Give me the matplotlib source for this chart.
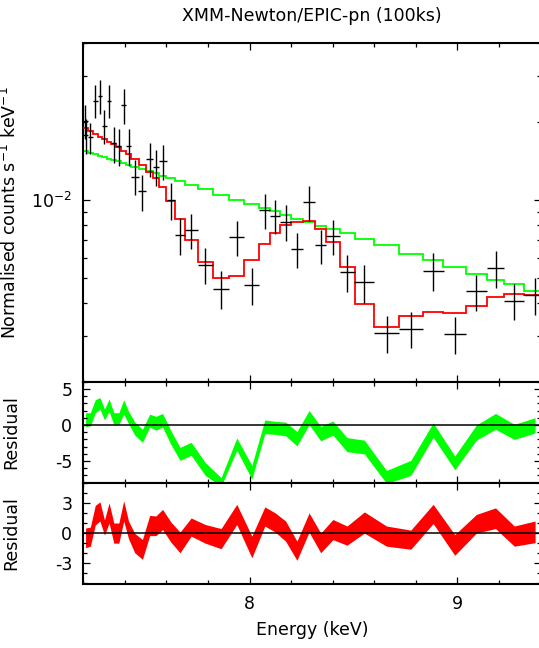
import numpy as np
import matplotlib
matplotlib.use("Agg")
import matplotlib.pyplot as plt
import matplotlib.ticker as mticker

plt.rcParams['font.family'] = 'DejaVu Sans'
plt.rcParams['font.size'] = 12.5
plt.rcParams['mathtext.default'] = 'regular'
plt.rcParams['axes.unicode_minus'] = False

# spectral bins (keV)
bin_edges = [7.200, 7.222, 7.246, 7.269, 7.291, 7.313, 7.335, 7.359, 7.383, 7.406,
             7.429, 7.466, 7.503, 7.536, 7.563, 7.600, 7.643, 7.688, 7.750, 7.824,
             7.902, 7.975, 8.047, 8.100, 8.148, 8.199, 8.257, 8.316, 8.369, 8.433,
             8.505, 8.600, 8.718, 8.834, 8.933, 9.042, 9.141, 9.226, 9.322, 9.426]

# observed spectrum
energy = [7.210, 7.211, 7.234, 7.258, 7.280, 7.302, 7.324, 7.347, 7.371, 7.394,
          7.418, 7.448, 7.484, 7.520, 7.550, 7.582, 7.622, 7.666, 7.719, 7.787,
          7.863, 7.938, 8.011, 8.074, 8.124, 8.174, 8.228, 8.286, 8.342, 8.401,
          8.469, 8.552, 8.659, 8.776, 8.884, 8.988, 9.092, 9.184, 9.274, 9.374]
energy_err = [0.011, 0.011, 0.012, 0.0115, 0.011, 0.011, 0.011, 0.012, 0.012, 0.0115,
              0.0115, 0.0185, 0.0185, 0.0165, 0.0135, 0.0185, 0.0215, 0.0225, 0.031, 0.037,
              0.039, 0.0365, 0.036, 0.0265, 0.024, 0.0255, 0.029, 0.0295, 0.0265, 0.032,
              0.036, 0.0475, 0.059, 0.058, 0.0495, 0.0545, 0.0495, 0.0425, 0.048, 0.052]
flux = [0.0201, 0.0177, 0.0174, 0.0241, 0.0251, 0.0193, 0.0241, 0.0165, 0.0161, 0.0231,
        0.0161, 0.0123, 0.0108, 0.0144, 0.0134, 0.0141, 0.0100, 0.00733, 0.00766, 0.00563,
        0.00456, 0.00720, 0.00471, 0.00915, 0.00867, 0.00823, 0.00645, 0.00982, 0.00669, 0.00726,
        0.00527, 0.00482, 0.00308, 0.00320, 0.00535, 0.00305, 0.00445, 0.00548, 0.00410, 0.00432]
flux_err = [0.0030, 0.0027, 0.0024, 0.0035, 0.0037, 0.0029, 0.0035, 0.0026, 0.0026, 0.0035,
            0.0026, 0.0019, 0.0017, 0.0022, 0.0021, 0.0022, 0.0016, 0.0012, 0.0012, 0.0009,
            0.00075, 0.0011, 0.00075, 0.0014, 0.0013, 0.0013, 0.0010, 0.0015, 0.0010, 0.0011,
            0.00085, 0.0008, 0.0005, 0.0005, 0.0009, 0.0005, 0.0007, 0.0009, 0.00065, 0.0007]

# folded models, one value per bin
model_red = [0.01891, 0.01837, 0.01793, 0.01751, 0.01711, 0.01670, 0.01641, 0.01602, 0.01546, 0.01501,
             0.01436, 0.01361, 0.01285, 0.01213, 0.01124, 0.00993, 0.00848, 0.00701, 0.00576, 0.00499,
             0.00509, 0.00587, 0.00679, 0.00744, 0.00799, 0.00825, 0.00830, 0.00775, 0.00689, 0.00551,
             0.00399, 0.00325, 0.00357, 0.00370, 0.00366, 0.00390, 0.00422, 0.00435, 0.00430]
model_green = [0.01538, 0.01515, 0.01501, 0.01479, 0.01458, 0.01436, 0.01423, 0.01407, 0.01386, 0.01365,
               0.01334, 0.01314, 0.01288, 0.01266, 0.01238, 0.01213, 0.01179, 0.01143, 0.01100, 0.01045,
               0.01000, 0.00963, 0.00929, 0.00907, 0.00875, 0.00846, 0.00823, 0.00794, 0.00771, 0.00744,
               0.00710, 0.00669, 0.00619, 0.00587, 0.00553, 0.00517, 0.00494, 0.00473, 0.00445]

# residual bands (lower / upper) at each bin
res_green_lo = [-0.2, -0.1, 1.7, 2.2, 0.7, 1.9, 0.0, 0.1, 1.5, 0.2,
                -1.4, -2.4, -0.3, -0.7, -0.3, -2.7, -4.9, -4.2, -7.0, -8.5,
                -3.5, -7.5, -1.2, -1.3, -1.5, -2.9, 0.05, -2.2, -1.4, -3.7,
                -4.0, -8.1, -7.0, -1.7, -6.2, -2.1, -0.6, -2.0, -1.1]
res_green_hi = [1.7, 1.7, 3.5, 3.8, 2.2, 3.6, 1.7, 1.7, 3.5, 1.9,
                0.4, -0.6, 1.5, 1.2, 1.6, -0.8, -3.1, -2.4, -5.2, -7.3,
                -1.8, -5.6, 0.7, 0.5, 0.4, -0.9, 2.0, -0.2, 0.55, -1.75,
                -2.1, -6.3, -4.9, 0.3, -4.3, 0.0, 1.6, 0.1, 1.0]
res_red_lo = [-1.45, -1.3, 0.8, 1.2, -0.2, 1.0, -1.0, -1.0, 1.2, -0.55,
              -1.95, -2.6, -0.25, -0.25, 0.35, -0.9, -1.95, -0.3, -1.0, -1.55,
              0.85, -2.45, 0.7, 0.1, -0.8, -2.7, 0.1, -1.95, -0.65, -1.2,
              0.0, -1.3, -1.6, 0.95, -2.2, 0.0, 0.45, -1.3, -0.95]
res_red_hi = [0.5, 0.6, 2.75, 3.1, 1.3, 3.0, 1.0, 1.0, 3.2, 1.2,
              -0.03, -0.63, 1.75, 1.7, 2.35, 1.1, 0.1, 1.5, 0.85, 0.45,
              2.85, -0.3, 2.6, 2.0, 1.2, -0.8, 2.0, 0.0, 1.35, 0.7,
              2.1, 0.7, 0.3, 2.85, -0.15, 1.85, 2.5, 0.7, 1.2]

GREEN = '#00ff00'
RED = '#ff0000'

edges = np.array(bin_edges)
centres = 0.5 * (edges[:-1] + edges[1:])

W, H = 539, 648
fig = plt.figure(figsize=(W / 100, H / 100), dpi=100)
x0 = 83.3 / W
w = (540.5 - 83.3) / W
ax1 = fig.add_axes([x0, 1 - 381.7 / H, w, (381.7 - 43.3) / H])
ax2 = fig.add_axes([x0, 1 - 482.7 / H, w, 101.0 / H])
ax3 = fig.add_axes([x0, 1 - 583.5 / H, w, 100.8 / H])

# spectrum panel
ax1.stairs(model_green, edges, baseline=None, color=GREEN, lw=1.3, zorder=2)
ax1.stairs(model_red, edges, baseline=None, color=RED, lw=1.3, zorder=3)
ax1.errorbar(energy, flux, xerr=energy_err, yerr=flux_err, fmt='none',
             ecolor='black', elinewidth=1.0, capsize=0, zorder=4)
ax1.set_yscale('log')
ax1.set_ylim(0.002, 0.04)
ax1.yaxis.set_major_locator(mticker.LogLocator(base=10))
ax1.yaxis.set_major_formatter(mticker.LogFormatterMathtext())
ax1.yaxis.set_minor_locator(mticker.LogLocator(base=10, subs=np.arange(2, 10)))
ax1.yaxis.set_minor_formatter(mticker.NullFormatter())
ax1.set_ylabel('Normalised counts s$^{-1}$ keV$^{-1}$')
fig.text(0.5 * (x0 + x0 + w), 1 - 16 / H, 'XMM-Newton/EPIC-pn (100ks)',
         ha='center', va='center')

# residual panels
ax2.fill_between(centres, res_green_lo, res_green_hi, color=GREEN, lw=0)
ax2.axhline(0, color='black', lw=1.1)
ax2.set_ylim(-8, 6)
ax2.yaxis.set_major_locator(mticker.FixedLocator([-5, 0, 5]))
ax2.yaxis.set_minor_locator(mticker.MultipleLocator(1))
ax2.set_ylabel('Residual')

ax3.fill_between(centres, res_red_lo, res_red_hi, color=RED, lw=0)
ax3.axhline(0, color='black', lw=1.1)
ax3.set_ylim(-5, 5)
ax3.yaxis.set_major_locator(mticker.FixedLocator([-3, 0, 3]))
ax3.yaxis.set_minor_locator(mticker.MultipleLocator(1))
ax3.set_ylabel('Residual')
ax3.set_xlabel('Energy (keV)')

for ax in (ax1, ax2, ax3):
    ax.set_xlim(7.2, 9.4)
    ax.xaxis.set_major_locator(mticker.MultipleLocator(1))
    ax.xaxis.set_minor_locator(mticker.MultipleLocator(0.2))
    ax.tick_params(which='both', direction='in', top=True, right=True, width=0.9)
    ax.tick_params(which='major', length=5, pad=8)
    ax.tick_params(which='minor', length=3)
    for s in ax.spines.values():
        s.set_linewidth(1.5)
    ax.yaxis.set_label_coords(-0.138, 0.5)
for ax in (ax1, ax2):
    ax.tick_params(labelbottom=False)
ax3.xaxis.labelpad = 6

fig.savefig('out.png', dpi=100)
